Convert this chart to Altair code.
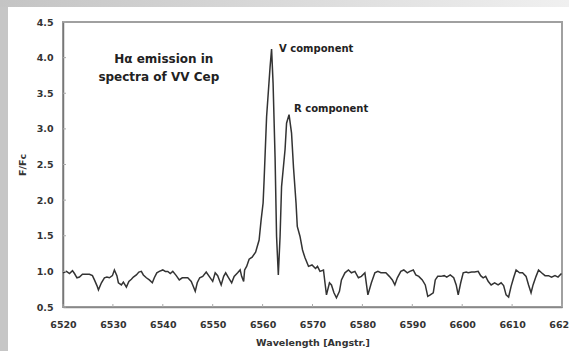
import altair as alt
import pandas as pd

wavelength = [
    6520.0, 6520.7, 6521.3, 6521.9, 6522.3, 6522.8, 6523.3, 6523.9, 6524.5, 6525.3,
    6525.9, 6526.3, 6526.8, 6527.1, 6527.7, 6528.3, 6528.8, 6529.3, 6529.9, 6530.3,
    6530.8, 6531.1, 6531.7, 6532.1, 6532.7, 6533.2, 6533.7, 6534.1, 6534.7, 6535.2,
    6535.7, 6536.1, 6536.7, 6537.3, 6537.9, 6538.3, 6538.8, 6539.3, 6540.0, 6540.5,
    6541.0, 6541.5, 6542.0, 6542.7, 6543.3, 6543.9, 6544.5, 6545.0, 6545.7, 6546.1,
    6546.5, 6546.9, 6547.4, 6548.0, 6548.7, 6549.3, 6550.0, 6550.5, 6551.0, 6551.7,
    6552.2, 6552.6, 6553.1, 6553.8, 6554.3, 6555.0, 6555.5, 6555.8, 6556.2, 6556.4,
    6556.8, 6557.3, 6557.9, 6558.6, 6559.3, 6559.7, 6560.1, 6560.3, 6560.8, 6561.5,
    6561.8, 6562.1, 6562.5, 6562.8, 6563.15, 6563.5, 6563.8, 6564.5, 6564.8, 6565.3,
    6565.8, 6566.2, 6566.7, 6566.95, 6567.5, 6568.0, 6568.5, 6569.2, 6569.9, 6570.6,
    6571.0, 6571.5, 6572.2, 6572.5, 6572.8, 6573.4, 6573.8, 6574.3, 6574.8, 6575.4,
    6575.8, 6576.5, 6577.2, 6577.8, 6578.5, 6579.2, 6579.8, 6580.5, 6581.1, 6581.8,
    6582.5, 6583.1, 6583.7, 6584.7, 6585.4, 6586.0, 6586.5, 6587.0, 6587.7, 6588.3,
    6589.0, 6589.5, 6590.2, 6590.7, 6591.3, 6592.0, 6592.6, 6593.1, 6593.6, 6594.2,
    6594.6, 6595.1, 6595.7, 6596.4, 6596.9, 6597.6, 6598.3, 6598.8, 6599.2, 6599.7,
    6600.2, 6600.8, 6601.2, 6601.9, 6602.5, 6603.2, 6603.7, 6604.2, 6604.7, 6605.2,
    6605.8, 6606.5, 6607.2, 6607.8, 6608.3, 6608.8, 6609.3, 6609.8, 6610.3, 6610.8,
    6611.5, 6612.1, 6612.8, 6613.3, 6613.8, 6614.2, 6614.8, 6615.3, 6615.9, 6616.6,
    6617.3, 6617.9, 6618.6, 6619.2, 6619.9,
]
flux = [
    0.98, 1.00, 0.97, 1.01, 0.97, 0.91, 0.92, 0.96, 0.96, 0.96,
    0.94, 0.88, 0.80, 0.74, 0.84, 0.91, 0.92, 0.91, 0.94, 1.02,
    0.94, 0.84, 0.81, 0.85, 0.78, 0.86, 0.89, 0.92, 0.95, 0.99,
    1.00, 0.95, 0.91, 0.88, 0.84, 0.91, 0.98, 1.00, 1.02, 1.00,
    1.00, 0.97, 1.00, 0.94, 0.88, 0.91, 0.91, 0.91, 0.86, 0.79,
    0.72, 0.84, 0.91, 0.93, 0.99, 0.93, 0.86, 0.98, 0.94, 0.81,
    0.93, 0.98, 0.92, 0.84, 0.93, 0.98, 1.02, 0.93, 0.86, 1.02,
    1.07, 1.17, 1.20, 1.27, 1.44, 1.72, 1.96, 2.28, 3.17, 3.87,
    4.12, 3.64, 2.60, 1.49, 0.95, 1.49, 2.19, 2.71, 3.08, 3.20,
    2.94, 2.45, 1.96, 1.63, 1.49, 1.30, 1.19, 1.07, 1.09, 1.04,
    1.07, 1.00, 1.02, 0.84, 0.67, 0.84, 0.81, 0.70, 0.63, 0.72,
    0.88, 0.98, 1.02, 0.98, 1.00, 0.91, 0.93, 0.98, 0.67, 0.84,
    0.98, 1.00, 0.98, 0.98, 0.93, 0.88, 0.81, 0.91, 1.00, 1.02,
    0.98, 1.00, 1.02, 0.95, 0.93, 0.88, 0.81, 0.65, 0.67, 0.70,
    0.88, 0.93, 0.93, 0.94, 0.92, 0.95, 0.91, 0.81, 0.67, 0.84,
    0.98, 0.99, 0.98, 0.99, 0.99, 1.00, 0.94, 0.91, 0.93, 0.86,
    0.81, 0.84, 0.81, 0.84, 0.80, 0.67, 0.64, 0.79, 0.91, 1.02,
    0.98, 0.98, 0.93, 0.81, 0.70, 0.81, 0.93, 1.02, 0.98, 0.94,
    0.94, 0.92, 0.94, 0.92, 0.97,
]

x_ticks = [6520, 6530, 6540, 6550, 6560, 6570, 6580, 6590, 6600, 6610, 6620]
y_ticks = [0.5, 1.0, 1.5, 2.0, 2.5, 3.0, 3.5, 4.0, 4.5]

note_text = ["Hα emission in", "spectra of VV Cep"]
note_x = [6540.2, 6539.2]
note_y = [3.98, 3.73]

comp_text = ["V component", "R component"]
comp_x = [6563.3, 6566.3]
comp_y = [4.12, 3.28]

FONT = "DejaVu Sans"

df = pd.DataFrame({"wl": wavelength, "f": flux})
notes = pd.DataFrame({"t": note_text, "x": note_x, "y": note_y})
comps = pd.DataFrame({"t": comp_text, "x": comp_x, "y": comp_y})
xt = pd.DataFrame({"v": x_ticks})
yt = pd.DataFrame({"v": y_ticks})
one = pd.DataFrame({"a": [0]})

xs = alt.Scale(domain=[6520, 6620], nice=False, zero=False)
ys = alt.Scale(domain=[0.5, 4.5], nice=False, zero=False)

x_axis = alt.Axis(
    values=x_ticks, format="d", title="Wavelength [Angstr.]",
    labelFont=FONT, labelFontWeight="bold", labelFontSize=9.5, labelColor="#333",
    titleFont=FONT, titleFontWeight="bold", titleFontSize=9.5, titleColor="#333",
    tickSize=0, labelPadding=12, titlePadding=9, grid=False,
    domainColor="#888", domainWidth=1.5, labelOverlap=False, labelFlush=False,
    labelBound=False,
)
y_axis = alt.Axis(
    values=y_ticks, format=".1f", title="F/Fc",
    labelFont=FONT, labelFontWeight="bold", labelFontSize=9.5, labelColor="#333",
    titleFont=FONT, titleFontWeight="bold", titleFontSize=9.5, titleColor="#333",
    tickSize=0, labelPadding=10, titlePadding=9, grid=False,
    domainColor="#777", domainWidth=1.5, labelOverlap=False, labelFlush=False,
)

grad = alt.Gradient(
    gradient="linear",
    stops=[alt.GradientStop(color="#c4c4c4", offset=0), alt.GradientStop(color="#f0f0f0", offset=1)],
    x1=0, x2=1, y1=0, y2=0,
)
top_band = alt.Chart(one).mark_rect(color=grad).encode(
    x=alt.value(-63), x2=alt.value(506), y=alt.value(-22), y2=alt.value(-15)
)
left_band = alt.Chart(one).mark_rect(color="#c6c6c6").encode(
    x=alt.value(-63), x2=alt.value(-55), y=alt.value(-15), y2=alt.value(329)
)

line = alt.Chart(df).mark_line(color="#333333", strokeWidth=1.5).encode(
    x=alt.X("wl:Q", scale=xs, axis=x_axis),
    y=alt.Y("f:Q", scale=ys, axis=y_axis),
)

ytk = alt.Chart(yt).mark_rule(color="#aaaaaa", strokeWidth=1).encode(
    y=alt.Y("v:Q", scale=ys, axis=y_axis), x=alt.value(0), x2=alt.value(3)
)
xtk = alt.Chart(xt).mark_rule(color="#aaaaaa", strokeWidth=1).encode(
    x=alt.X("v:Q", scale=xs, axis=x_axis), y=alt.value(285), y2=alt.value(282)
)

note_marks = alt.Chart(notes).mark_text(
    font=FONT, fontWeight="bold", fontSize=12, color="#222", align="center", baseline="middle"
).encode(x=alt.X("x:Q", scale=xs, axis=x_axis), y=alt.Y("y:Q", scale=ys, axis=y_axis), text="t:N")

comp_marks = alt.Chart(comps).mark_text(
    font=FONT, fontWeight="bold", fontSize=10, color="#222", align="left", baseline="middle"
).encode(x=alt.X("x:Q", scale=xs, axis=x_axis), y=alt.Y("y:Q", scale=ys, axis=y_axis), text="t:N")

chart = alt.layer(
    top_band, left_band, line, ytk, xtk, note_marks, comp_marks
).properties(
    width=499, height=285,
    autosize=alt.AutoSizeParams(type="none"),
    padding={"left": 63, "top": 22, "right": 7, "bottom": 44},
    background="white",
).configure_view(
    stroke="#a0a0a0", strokeWidth=2
)

chart.save("out.html", embed_options={"renderer": "svg", "actions": False})
